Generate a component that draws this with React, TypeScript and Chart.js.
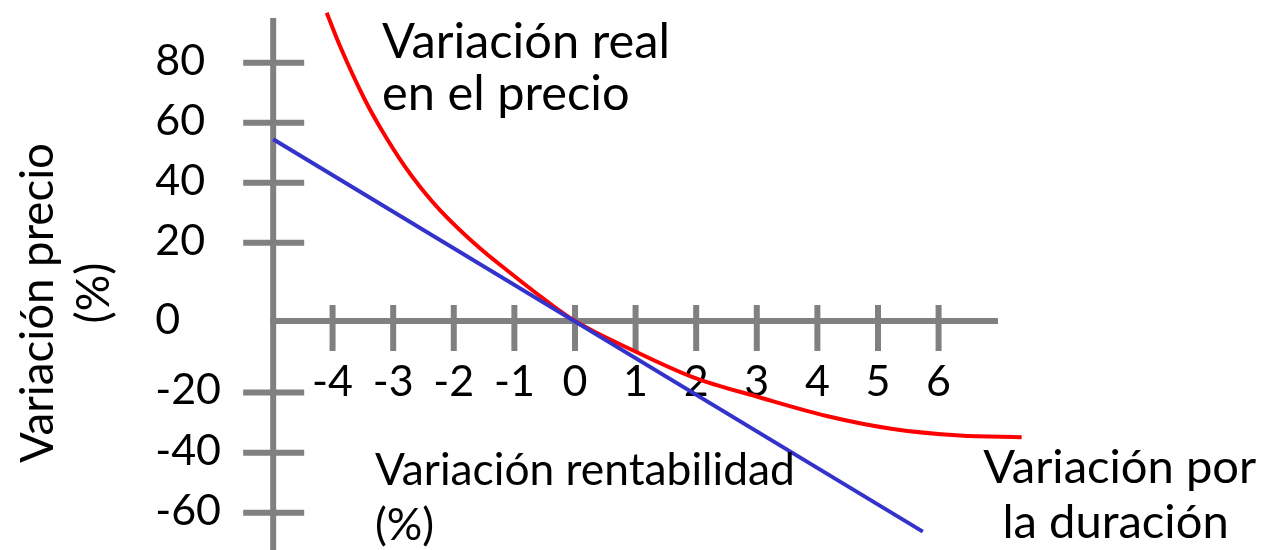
import React, { useEffect, useRef } from "react";
import { Chart, registerables } from "chart.js";

Chart.register(...registerables);

// ---- data ----
const xTicks = [-4, -3, -2, -1, 0, 1, 2, 3, 4, 5, 6];
const xTickLabels = ["-4", "-3", "-2", "-1", "0", "1", "2", "3", "4", "5", "6"];
const yTickPositions = [86.1, 66.1, 46.1, 26.1, -23.8, -43.9, -63.9];
const yTickLabels = ["80", "60", "40", "20", "-20", "-40", "-60"];
const yZeroLabel = "0";

// "Variación real en el precio" (red curve)
const realX = [-4.097, -3.878, -3.465, -3.19, -2.805, -2.558, -2.228, -1.568, -1.127, -0.578, 0, 0.962, 1.952, 3.053, 4.153, 5.248, 6.353, 7.371];
const realY = [102.77, 91.67, 73.67, 63.67, 51.43, 44.77, 37.0, 24.23, 17.0, 8.33, 0, -9.83, -18.77, -25.5, -31.67, -36.0, -38.17, -38.77];

// "Variación por la duración" (blue straight line)
const durX = [-4.98, 5.74];
const durY = [60.6, -70.2];

// ---- layout / style ----
const W = 1274;
const H = 550;
const X_MIN = -9.488;
const X_MAX = 11.535;
const Y_MIN = -76.33;
const Y_MAX = 107;
const AXIS_X = -4.98;
const AXIS_TOP = 101;
const AXIS_X_END = 6.98;
const GRAY = "#808080";
const RED = "#FF0000";
const BLUE = "#3333CC";
const FONT = "Lato, 'Open Sans', sans-serif";

function fitSize(ctx: CanvasRenderingContext2D, text: string, target: number, base = 45) {
  ctx.font = `${base}px ${FONT}`;
  const w = ctx.measureText(text).width;
  return (base * target) / w;
}

const axesPlugin = {
  id: "axesPlugin",
  beforeDatasetsDraw(chart: any) {
    const { ctx } = chart;
    const sx = chart.scales.x;
    const sy = chart.scales.y;
    const px = (u: number) => sx.getPixelForValue(u);
    const py = (v: number) => sy.getPixelForValue(v);
    const ax = px(AXIS_X);
    const ay = py(0);
    ctx.save();
    ctx.strokeStyle = GRAY;
    ctx.lineWidth = 6;
    ctx.lineCap = "butt";
    ctx.beginPath();
    ctx.moveTo(ax, py(AXIS_TOP));
    ctx.lineTo(ax, H);
    ctx.stroke();
    ctx.beginPath();
    ctx.moveTo(ax - 3, ay);
    ctx.lineTo(px(AXIS_X_END), ay);
    ctx.stroke();
    yTickPositions.forEach((v) => {
      ctx.beginPath();
      ctx.moveTo(ax - 30, py(v));
      ctx.lineTo(ax + 31, py(v));
      ctx.stroke();
    });
    xTicks.forEach((u) => {
      ctx.beginPath();
      ctx.moveTo(px(u), ay - 16);
      ctx.lineTo(px(u), ay + 30);
      ctx.stroke();
    });

    // tick labels
    ctx.fillStyle = "#000";
    ctx.font = `43px ${FONT}`;
    ctx.textBaseline = "middle";
    ctx.textAlign = "left";
    yTickPositions.forEach((v, i) => {
      ctx.fillText(yTickLabels[i], ax - 118, py(v) - 2);
    });
    ctx.fillText(yZeroLabel, ax - 118, ay - 1);
    ctx.textAlign = "center";
    xTicks.forEach((u, i) => {
      ctx.fillText(xTickLabels[i], px(u), ay + 61);
    });
    ctx.restore();
  },
  afterDatasetsDraw(chart: any) {
    const { ctx } = chart;
    const sx = chart.scales.x;
    const sy = chart.scales.y;
    const px = (u: number) => sx.getPixelForValue(u);
    const py = (v: number) => sy.getPixelForValue(v);
    ctx.save();
    ctx.fillStyle = "#000";
    ctx.textBaseline = "alphabetic";

    // Block A
    let s = fitSize(ctx, "Variación real", 288);
    ctx.font = `${s}px ${FONT}`;
    ctx.textAlign = "left";
    ctx.fillText("Variación real", px(-3.185), py(87.7));
    ctx.fillText("en el precio", px(-3.185), py(87.7) + 52);

    // Block B
    s = fitSize(ctx, "Variación rentabilidad", 420);
    ctx.font = `${s}px ${FONT}`;
    ctx.fillText("Variación rentabilidad", px(-3.3), py(-54.7));
    ctx.fillText("(%)", px(-3.3), py(-54.7) + 55);

    // Block C
    s = fitSize(ctx, "Variación por", 273);
    ctx.font = `${s}px ${FONT}`;
    ctx.textAlign = "center";
    ctx.fillText("Variación por", px(8.99), py(-54));
    ctx.fillText("la duración", px(8.92), py(-54) + 55);

    // Block D (rotated y title)
    s = fitSize(ctx, "Variación precio", 320);
    ctx.font = `${s}px ${FONT}`;
    ctx.translate(53, 303);
    ctx.rotate(-Math.PI / 2);
    ctx.textAlign = "center";
    ctx.fillText("Variación precio", 0, 0);
    ctx.fillText("(%)", 10, 56);
    ctx.restore();
  },
};

export default function App() {
  const ref = useRef<HTMLCanvasElement>(null);
  useEffect(() => {
    const chart = new Chart(ref.current!, {
      type: "line",
      data: {
        datasets: [
          {
            label: "Variación por la duración",
            data: durX.map((x, i) => ({ x, y: durY[i] })),
            borderColor: BLUE,
            borderWidth: 4,
            pointRadius: 0,
            tension: 0,
            fill: false,
          },
          {
            label: "Variación real en el precio",
            data: realX.map((x, i) => ({ x, y: realY[i] })),
            borderColor: RED,
            borderWidth: 4,
            pointRadius: 0,
            cubicInterpolationMode: "monotone",
            fill: false,
          },
        ],
      },
      options: {
        responsive: false,
        maintainAspectRatio: false,
        animation: false,
        events: [],
        layout: { padding: 0 },
        plugins: { legend: { display: false }, tooltip: { enabled: false } },
        scales: {
          x: { type: "linear", min: X_MIN, max: X_MAX, display: false },
          y: { type: "linear", min: Y_MIN, max: Y_MAX, display: false },
        },
      },
      plugins: [axesPlugin],
    } as any);
    return () => chart.destroy();
  }, []);
  return (
    <div style={{ position: "absolute", left: 0, top: 0, width: W, height: H, background: "#fff" }}>
      <canvas ref={ref} width={W} height={H} style={{ display: "block", width: W, height: H }} />
    </div>
  );
}
